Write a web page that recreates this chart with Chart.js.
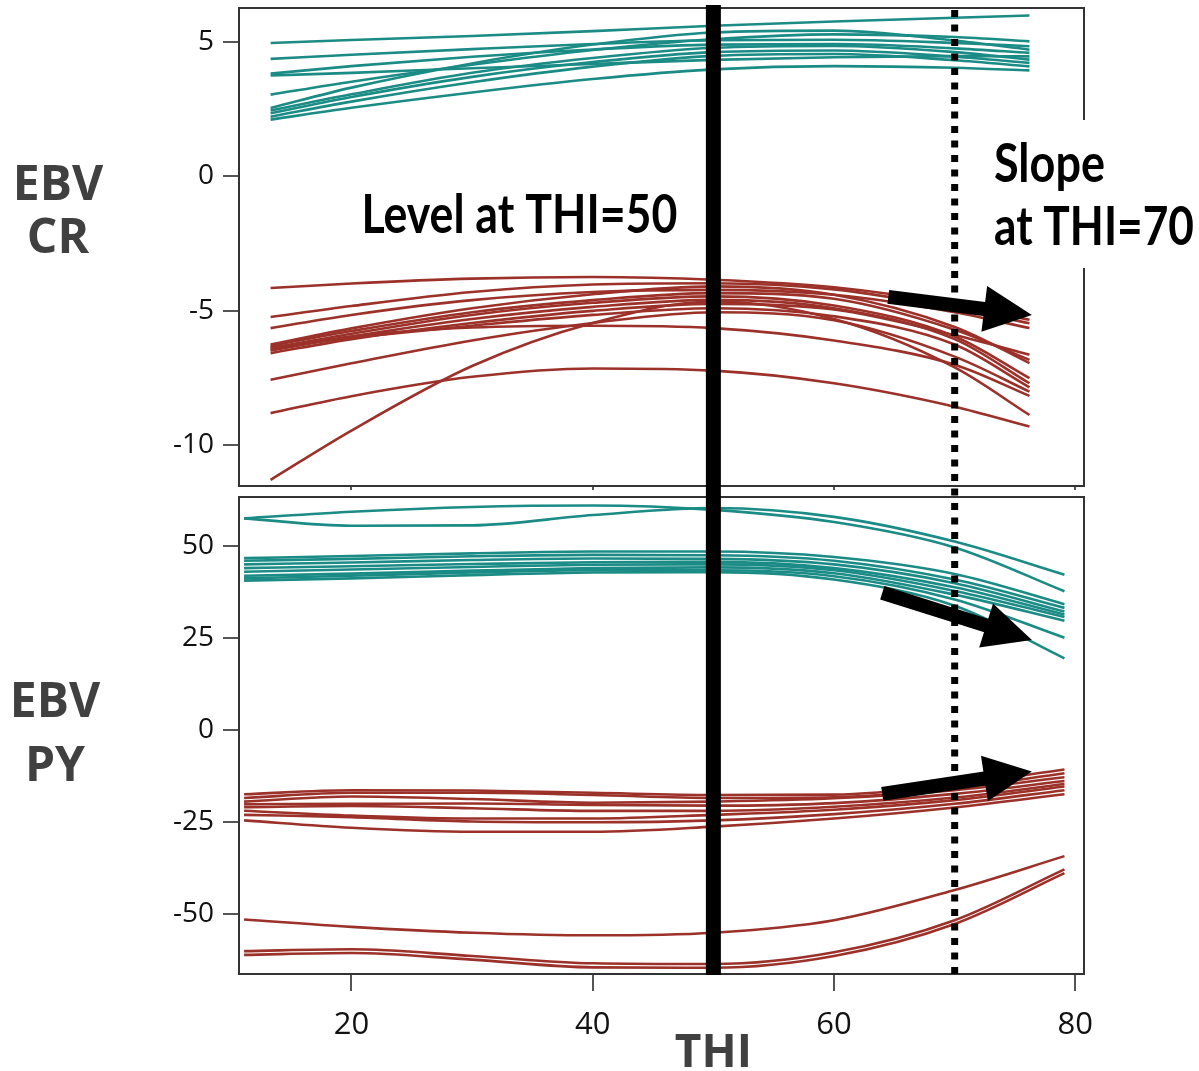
<!DOCTYPE html>
<html>
<head>
<meta charset="utf-8">
<title>EBV CR and PY across THI</title>
<script src="https://cdn.jsdelivr.net/npm/chart.js@4.4.1/dist/chart.umd.min.js"></script>
<style>
  html, body { margin: 0; padding: 0; background: #fff; }
  #wrap { position: relative; width: 1199px; height: 1071px; overflow: hidden; }
  #wrap canvas { position: absolute; left: 0; top: 0; }
</style>
</head>
<body>
<div id="wrap">
  <canvas id="crChart" width="1199" height="1071"></canvas>
  <canvas id="pyChart" width="1199" height="1071"></canvas>
</div>
<script>
// THI values where each reaction-norm curve is sampled
const thiCR = [13.3, 20, 30, 40, 50, 60, 70, 76.2];
const thiPY = [11.1, 20, 30, 40, 50, 60, 70, 79.1];

// EBV for CR, high group (teal)
const crTeal = [
  [4.96, 5.07, 5.22, 5.40, 5.60, 5.76, 5.90, 5.98],
  [4.37, 4.52, 4.73, 4.92, 5.06, 5.08, 4.96, 4.84],
  [3.82, 4.10, 4.45, 4.72, 4.90, 4.92, 4.76, 4.59],
  [3.75, 3.85, 4.02, 4.18, 4.33, 4.43, 4.47, 4.46],
  [3.04, 3.52, 4.15, 4.70, 5.10, 5.28, 5.18, 5.02],
  [2.54, 3.30, 4.20, 4.90, 5.35, 5.42, 5.05, 4.71],
  [2.45, 3.05, 3.85, 4.40, 4.78, 4.85, 4.62, 4.34],
  [2.35, 2.95, 3.70, 4.25, 4.62, 4.68, 4.45, 4.22],
  [2.22, 2.78, 3.50, 4.08, 4.48, 4.55, 4.32, 4.09],
  [2.11, 2.55, 3.12, 3.62, 3.98, 4.10, 4.04, 3.94]
];

// EBV for CR, low group (red)
const crRed = [
  [-4.15, -3.98, -3.80, -3.74, -3.84, -4.12, -4.75, -5.33],
  [-5.23, -4.82, -4.30, -4.02, -3.97, -4.20, -4.90, -5.46],
  [-5.64, -5.15, -4.60, -4.30, -4.22, -4.40, -5.05, -5.64],
  [-6.25, -5.65, -4.90, -4.38, -4.09, -4.40, -5.60, -6.94],
  [-6.30, -5.75, -5.05, -4.60, -4.34, -4.55, -5.70, -6.82],
  [-6.39, -5.85, -5.15, -4.70, -4.46, -4.80, -5.95, -7.50],
  [-6.47, -5.95, -5.30, -4.85, -4.59, -4.90, -6.05, -7.69],
  [-6.57, -6.05, -5.45, -5.00, -4.74, -4.95, -5.90, -6.63],
  [-6.35, -6.00, -5.55, -5.15, -4.90, -5.20, -6.25, -7.84],
  [-6.45, -5.95, -5.62, -5.55, -5.64, -6.10, -7.00, -8.16],
  [-8.80, -8.17, -7.45, -7.14, -7.22, -7.69, -8.56, -9.30],
  [-11.28, -9.45, -7.05, -5.45, -4.65, -5.30, -7.10, -8.87],
  [-7.56, -6.95, -6.10, -5.45, -5.05, -5.35, -6.70, -8.00]
];

// EBV for PY, high group (teal)
const pyTeal = [
  [57.5, 55.5, 55.6, 58.4, 60.3, 57.9, 51.2, 42.2],
  [57.5, 59.3, 60.6, 61.0, 59.8, 56.5, 49.6, 37.7],
  [46.7, 47.3, 48.0, 48.5, 48.5, 47.0, 42.4, 34.2],
  [46.0, 46.5, 47.2, 47.6, 47.5, 46.0, 40.9, 33.2],
  [45.0, 45.5, 46.2, 46.6, 46.5, 45.0, 39.9, 32.2],
  [44.0, 44.5, 45.1, 45.6, 45.7, 44.0, 38.8, 31.4],
  [43.0, 43.6, 44.3, 44.9, 45.0, 43.4, 37.8, 30.7],
  [41.9, 42.5, 43.3, 44.0, 44.2, 42.6, 36.8, 29.7],
  [41.2, 41.9, 42.8, 43.4, 43.4, 41.8, 35.5, 25.1],
  [40.6, 41.2, 42.1, 42.8, 42.9, 40.9, 33.8, 19.5]
];

// EBV for PY, low group (red)
const pyRed = [
  [-17.4, -16.3, -16.4, -17.0, -17.6, -17.5, -14.8, -10.7],
  [-18.4, -17.0, -17.0, -17.6, -18.4, -18.2, -15.8, -11.7],
  [-19.4, -18.0, -18.7, -19.7, -19.4, -18.5, -16.3, -12.8],
  [-20.1, -20.0, -19.9, -20.3, -20.5, -19.8, -17.3, -13.8],
  [-20.9, -20.6, -21.2, -21.9, -21.9, -20.8, -18.3, -14.6],
  [-21.9, -23.2, -24.0, -24.0, -23.0, -21.6, -19.0, -15.3],
  [-23.0, -23.6, -24.8, -25.0, -24.5, -22.8, -20.0, -16.3],
  [-24.5, -26.5, -27.6, -27.6, -26.2, -24.0, -21.0, -17.4],
  [-51.4, -53.4, -55.0, -55.7, -55.0, -51.6, -43.4, -34.2],
  [-60.0, -59.5, -61.3, -63.3, -63.5, -60.3, -51.6, -37.8],
  [-61.0, -60.5, -62.3, -64.4, -64.5, -61.3, -52.6, -38.8]
];

// Axis ticks
const thiTicks = [20, 40, 60, 80];
const crTicks = [-10, -5, 0, 5];
const pyTicks = [-50, -25, 0, 25, 50];

// Reference THI values: level and slope
const levelTHI = 50;
const slopeTHI = 70;

// Slope arrows, [from, to] in (THI, EBV)
const crArrows = [[[64.5, -4.48], [76.4, -5.15]]];
const pyArrows = [
  [[64.0, 37.3], [76.4, 24.5]],
  [[64.0, -17.3], [76.4, -11.2]]
];

const TEAL = '#1b8b86';
const RED = '#9b3129';
const FRAME = '#333333';
const TICKC = '#555555';
const LABELC = '#404040';
const NOTE_FONT = 'bold 53px Lato';

function curves(xs, rows, color) {
  return rows.map(r => ({
    data: r.map((y, i) => ({ x: xs[i], y: y })),
    borderColor: color,
    borderWidth: 2.6,
    pointRadius: 0,
    fill: false,
    cubicInterpolationMode: 'monotone'
  }));
}

function fixedTicks(arr) {
  return function (scale) { scale.ticks = arr.map(v => ({ value: v })); };
}

// keep the axis box at a set size and stop tick labels from pushing the plot area
function fixedBox(prop, size) {
  return function (scale) {
    scale[prop] = size;
    scale.paddingTop = 0;
    scale.paddingBottom = 0;
    scale.paddingLeft = 0;
    scale.paddingRight = 0;
  };
}

function drawFrame(chart) {
  const a = chart.chartArea, ctx = chart.ctx;
  ctx.save();
  ctx.strokeStyle = FRAME;
  ctx.lineWidth = 2;
  ctx.strokeRect(a.left, a.top, a.right - a.left, a.bottom - a.top);
  ctx.restore();
}

function drawArrow(chart, arrow) {
  const xs = chart.scales.x, ys = chart.scales.y, ctx = chart.ctx;
  const x0 = xs.getPixelForValue(arrow[0][0]), y0 = ys.getPixelForValue(arrow[0][1]);
  const x1 = xs.getPixelForValue(arrow[1][0]), y1 = ys.getPixelForValue(arrow[1][1]);
  const len = Math.hypot(x1 - x0, y1 - y0);
  const ux = (x1 - x0) / len, uy = (y1 - y0) / len;
  const headLen = 48, headHalf = 23, shaft = 14;
  const bx = x1 - ux * headLen, by = y1 - uy * headLen;
  ctx.save();
  ctx.strokeStyle = '#000';
  ctx.fillStyle = '#000';
  ctx.lineWidth = shaft;
  ctx.lineCap = 'butt';
  ctx.beginPath();
  ctx.moveTo(x0, y0);
  ctx.lineTo(bx + ux * 2, by + uy * 2);
  ctx.stroke();
  ctx.beginPath();
  ctx.moveTo(x1, y1);
  ctx.lineTo(bx - uy * headHalf, by + ux * headHalf);
  ctx.lineTo(bx + uy * headHalf, by - ux * headHalf);
  ctx.closePath();
  ctx.fill();
  ctx.restore();
}

// condensed annotation text: squeeze a bold face to a given width
function noteText(ctx, text, x, y, width, align) {
  ctx.save();
  ctx.font = NOTE_FONT;
  ctx.fillStyle = '#000';
  ctx.textBaseline = 'alphabetic';
  ctx.textAlign = align;
  const k = width / ctx.measureText(text).width;
  ctx.translate(x, y);
  ctx.scale(k, 1);
  ctx.fillText(text, 0, 0);
  ctx.restore();
}

function panelLabel(ctx, lines, cx, baselines) {
  ctx.save();
  ctx.fillStyle = LABELC;
  ctx.font = 'bold 48px "Open Sans"';
  ctx.textAlign = 'center';
  ctx.textBaseline = 'alphabetic';
  lines.forEach((t, i) => ctx.fillText(t, cx, baselines[i]));
  ctx.restore();
}

const tickFont = { family: 'Open Sans', size: 28 };

function yAxis(min, max, ticks) {
  return {
    type: 'linear',
    min: min,
    max: max,
    afterBuildTicks: fixedTicks(ticks),
    afterFit: fixedBox('width', 239),
    border: { display: false },
    grid: { drawOnChartArea: false, drawTicks: true, tickLength: 16, color: TICKC, lineWidth: 2 },
    ticks: { font: tickFont, color: '#111', padding: 9 }
  };
}

// Upper panel: EBV CR
const crPanel = {
  id: 'crPanel',
  afterDatasetsDraw(chart) {
    const ctx = chart.ctx, a = chart.chartArea, xs = chart.scales.x;
    drawFrame(chart);
    crArrows.forEach(ar => drawArrow(chart, ar));

    // label block for the slope, sitting over the right edge of the frame
    ctx.save();
    ctx.fillStyle = '#fff';
    ctx.fillRect(985, a.top + 112, 1199 - 985, 148);
    ctx.restore();

    noteText(ctx, 'Level at THI=50', xs.getPixelForValue(levelTHI) - 36, 233, 316, 'right');
    noteText(ctx, 'Slope', 994, 182, 111, 'left');
    noteText(ctx, 'at THI=70', 994, 245, 200, 'left');

    panelLabel(ctx, ['EBV', 'CR'], 58, [200, 253]);
  }
};

const crChart = new Chart(document.getElementById('crChart'), {
  type: 'line',
  data: { datasets: curves(thiCR, crTeal, TEAL).concat(curves(thiCR, crRed, RED)) },
  options: {
    responsive: false,
    animation: false,
    devicePixelRatio: 1,
    layout: { padding: { left: 0, top: 8, right: 115, bottom: 581 } },
    plugins: { legend: { display: false }, tooltip: { enabled: false } },
    scales: {
      x: {
        type: 'linear',
        min: 10.68,
        max: 80.72,
        afterBuildTicks: fixedTicks(thiTicks),
        afterFit: fixedBox('height', 4),
        border: { display: false },
        grid: { drawOnChartArea: false, drawTicks: true, tickLength: 4, color: TICKC, lineWidth: 2 },
        ticks: { display: false }
      },
      y: yAxis(-11.51, 6.26, crTicks)
    }
  },
  plugins: [crPanel]
});

// Lower panel: EBV PY, plus the reference lines that run through both panels
const pyPanel = {
  id: 'pyPanel',
  afterDatasetsDraw(chart) {
    const ctx = chart.ctx, a = chart.chartArea, xs = chart.scales.x;
    drawFrame(chart);
    pyArrows.forEach(ar => drawArrow(chart, ar));

    const top = crChart.chartArea.top;
    const bottom = a.bottom + 1;
    ctx.save();
    // level line at THI = 50
    ctx.strokeStyle = '#000';
    ctx.lineWidth = 15;
    ctx.beginPath();
    ctx.moveTo(xs.getPixelForValue(levelTHI), top - 3);
    ctx.lineTo(xs.getPixelForValue(levelTHI), bottom);
    ctx.stroke();
    // slope line at THI = 70
    ctx.lineWidth = 7;
    ctx.setLineDash([7, 7.5]);
    ctx.beginPath();
    ctx.moveTo(xs.getPixelForValue(slopeTHI), top + 2);
    ctx.lineTo(xs.getPixelForValue(slopeTHI), bottom);
    ctx.stroke();
    ctx.restore();

    // axis title centred under the level line
    ctx.save();
    ctx.fillStyle = LABELC;
    ctx.font = 'bold 46px "Open Sans"';
    ctx.textAlign = 'center';
    ctx.textBaseline = 'alphabetic';
    ctx.fillText('THI', xs.getPixelForValue(levelTHI), 1067);
    ctx.restore();

    panelLabel(ctx, ['EBV', 'PY'], 55, [717, 781]);
  }
};

new Chart(document.getElementById('pyChart'), {
  type: 'line',
  data: { datasets: curves(thiPY, pyTeal, TEAL).concat(curves(thiPY, pyRed, RED)) },
  options: {
    responsive: false,
    animation: false,
    devicePixelRatio: 1,
    layout: { padding: { left: 0, top: 497, right: 115, bottom: 37 } },
    plugins: { legend: { display: false }, tooltip: { enabled: false } },
    scales: {
      x: {
        type: 'linear',
        min: 10.68,
        max: 80.72,
        afterBuildTicks: fixedTicks(thiTicks),
        afterFit: fixedBox('height', 60),
        border: { display: false },
        grid: { drawOnChartArea: false, drawTicks: true, tickLength: 17, color: TICKC, lineWidth: 2 },
        ticks: { font: { family: 'Open Sans', size: 31 }, color: '#111', padding: 16, maxRotation: 0 }
      },
      y: yAxis(-66.2, 63.3, pyTicks)
    }
  },
  plugins: [pyPanel]
});
</script>
</body>
</html>
